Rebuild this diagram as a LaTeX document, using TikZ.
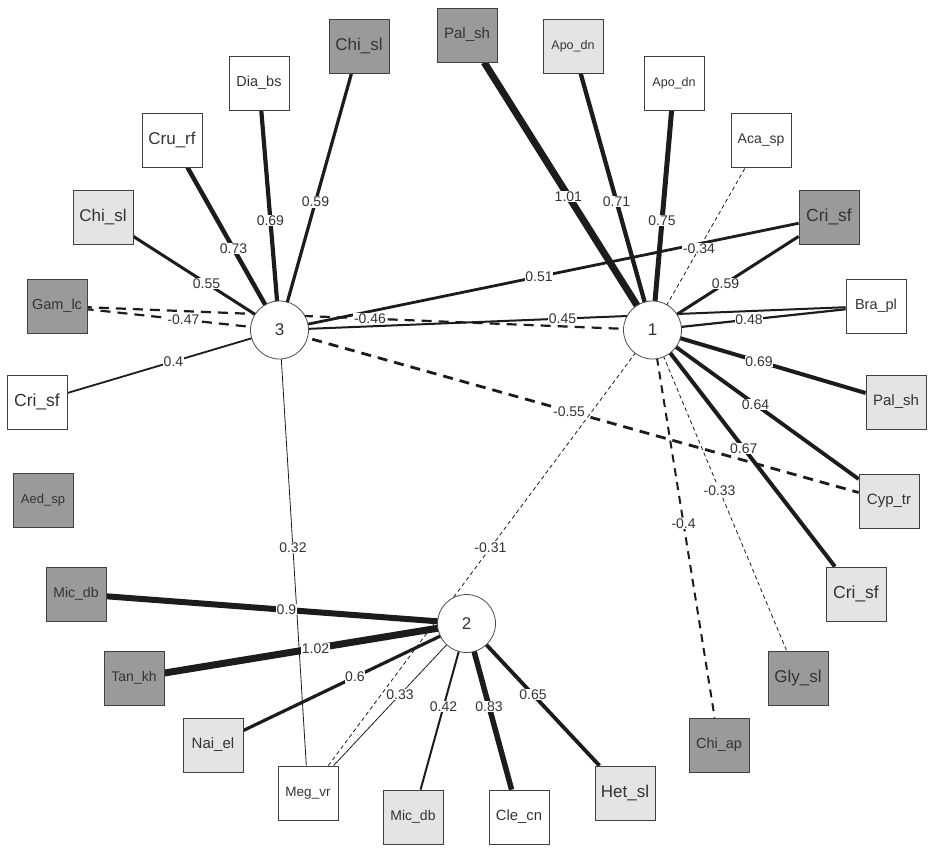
\documentclass[tikz,border=0pt]{standalone}
\usepackage{fontspec}
\setmainfont{Liberation Sans}
\pgfdeclarelayer{background}
\pgfsetlayers{background,main}
\newcommand{\fsz}[1]{\fontsize{#1}{#1}\selectfont}
\definecolor{darkfill}{HTML}{9A9A9A}
\definecolor{lightfill}{HTML}{E4E4E4}
\definecolor{edgecol}{HTML}{1C1C1C}
\definecolor{txtcol}{HTML}{333333}
\tikzset{
  box/.style={draw=black!75, line width=0.8pt, minimum width=60pt, minimum height=54pt, inner sep=0pt, text=txtcol},
  dk/.style={box, fill=darkfill},
  lt/.style={box, fill=lightfill},
  wh/.style={box, fill=white},
  clus/.style={circle, draw=black!70, line width=0.8pt, fill=white, minimum size=58pt, inner sep=0pt, font=\fsz{17}, text=black!80},
  lbl/.style={fill=white, inner sep=0.6pt, font=\fsz{14}, text=txtcol},
  ed/.style={draw=edgecol},
  dthin/.style={ed, dash pattern=on 4pt off 3pt},
  dthick/.style={ed, dash pattern=on 10pt off 7pt},
}
\begin{document}
\begin{tikzpicture}[x=1pt,y=-1pt]
\useasboundingbox (0,0) rectangle (933,854);
% clusters
\node[clus] (c1) at (652.5,330) {1};
\node[clus] (c2) at (466.5,623.5) {2};
\node[clus] (c3) at (279.5,330) {3};
% species boxes
\node[dk, font=\fsz{15}]   (A) at (467,35)  {Pal\_sh};
\node[dk, font=\fsz{17}]   (B) at (359,46.5) {Chi\_sl};
\node[wh, font=\fsz{14.5}] (C) at (259,83)  {Dia\_bs};
\node[wh, font=\fsz{17}]   (D) at (172,140) {Cru\_rf};
\node[lt, font=\fsz{17}]   (E) at (103,217) {Chi\_sl};
\node[dk, font=\fsz{14.5}] (F) at (57,306)  {Gam\_lc};
\node[wh, font=\fsz{17.5}] (G) at (37,402)  {Cri\_sf};
\node[dk, font=\fsz{13}]   (H) at (43,500)  {Aed\_sp};
\node[dk, font=\fsz{14}]   (I) at (76,594)  {Mic\_db};
\node[dk, font=\fsz{14}]   (J) at (134,678) {Tan\_kh};
\node[lt, font=\fsz{15}]   (K) at (213,745) {Nai\_el};
\node[wh, font=\fsz{13.5}] (L) at (308,793) {Meg\_vr};
\node[lt, font=\fsz{14}]   (M) at (413,817) {Mic\_db};
\node[wh, font=\fsz{14.8}] (N) at (519,817) {Cle\_cn};
\node[lt, font=\fsz{17}]   (O) at (625,793) {Het\_sl};
\node[dk, font=\fsz{14.5}] (P) at (719,745) {Chi\_ap};
\node[dk, font=\fsz{17}]   (Q) at (798,678) {Gly\_sl};
\node[lt, font=\fsz{17.5}] (R) at (856,594) {Cri\_sf};
\node[lt, font=\fsz{15}]   (S) at (889,501) {Cyp\_tr};
\node[lt, font=\fsz{15}]   (T) at (896,402) {Pal\_sh};
\node[wh, font=\fsz{14.5}] (U) at (876,306) {Bra\_pl};
\node[dk, font=\fsz{17.5}] (V) at (829,217) {Cri\_sf};
\node[wh, font=\fsz{14}]   (W) at (761,140) {Aca\_sp};
\node[wh, font=\fsz{12.5}] (X) at (674,83)  {Apo\_dn};
\node[lt, font=\fsz{12.5}] (Y) at (573,46)  {Apo\_dn};
\begin{pgfonlayer}{background}
% cluster 3
\draw[ed, line width=3.2pt] (c3.center) -- node[lbl]{0.59} (B);
\draw[ed, line width=4.2pt] (c3.center) -- node[lbl]{0.69} (C);
\draw[ed, line width=4.5pt] (c3.center) -- node[lbl]{0.73} (D);
\draw[ed, line width=3pt] (c3.center) -- node[lbl]{0.55} (E);
\draw[dthick, line width=2.2pt] (c3.center) -- node[lbl]{-0.47} (F);
\draw[ed, line width=1.8pt] (c3.center) -- node[lbl]{0.4} (G);
\draw[ed, line width=0.8pt] (c3.center) -- node[lbl]{0.32} (L);
\draw[ed, line width=2.8pt] (c3.center) -- node[lbl]{0.51} (V);
\draw[ed, line width=2pt] (c3.center) -- node[lbl]{0.45} (U);
\draw[dthick, line width=2.8pt] (c3.center) -- node[lbl]{-0.55} (S);
% cluster 1
\draw[ed, line width=7pt] (c1.center) -- node[lbl]{1.01} (A);
\draw[ed, line width=4.3pt] (c1.center) -- node[lbl]{0.71} (Y);
\draw[ed, line width=5pt] (c1.center) -- node[lbl]{0.75} (X);
\draw[dthin, line width=0.8pt] (c1.center) -- node[lbl]{-0.34} (W);
\draw[ed, line width=3pt] (c1.center) -- node[lbl]{0.59} (V);
\draw[ed, line width=2.2pt] (c1.center) -- node[lbl]{0.48} (U);
\draw[ed, line width=4pt] (c1.center) -- node[lbl]{0.69} (T);
\draw[ed, line width=3.8pt] (c1.center) -- node[lbl]{0.64} (S);
\draw[ed, line width=4pt] (c1.center) -- node[lbl]{0.67} (R);
\draw[dthin, line width=0.8pt] (c1.center) -- node[lbl]{-0.33} (Q);
\draw[ed, dash pattern=on 8pt off 6pt, line width=2pt] (c1.center) -- node[lbl]{-0.4} (P);
\draw[dthin, line width=0.8pt] (c1.center) -- node[lbl]{-0.31} (L);
\draw[dthick, line width=2.2pt] (c1.center) -- node[lbl]{-0.46} (F);
% cluster 2
\draw[ed, line width=6pt] (c2.center) -- node[lbl]{0.9} (I);
\draw[ed, line width=7pt] (c2.center) -- node[lbl]{1.02} (J);
\draw[ed, line width=3.2pt] (c2.center) -- node[lbl]{0.6} (K);
\draw[ed, line width=0.8pt] (c2.center) -- node[lbl]{0.33} (L);
\draw[ed, line width=2pt] (c2.center) -- node[lbl]{0.42} (M);
\draw[ed, line width=5.5pt] (c2.center) -- node[lbl]{0.83} (N);
\draw[ed, line width=3.8pt] (c2.center) -- node[lbl]{0.65} (O);
\end{pgfonlayer}
\end{tikzpicture}
\end{document}
